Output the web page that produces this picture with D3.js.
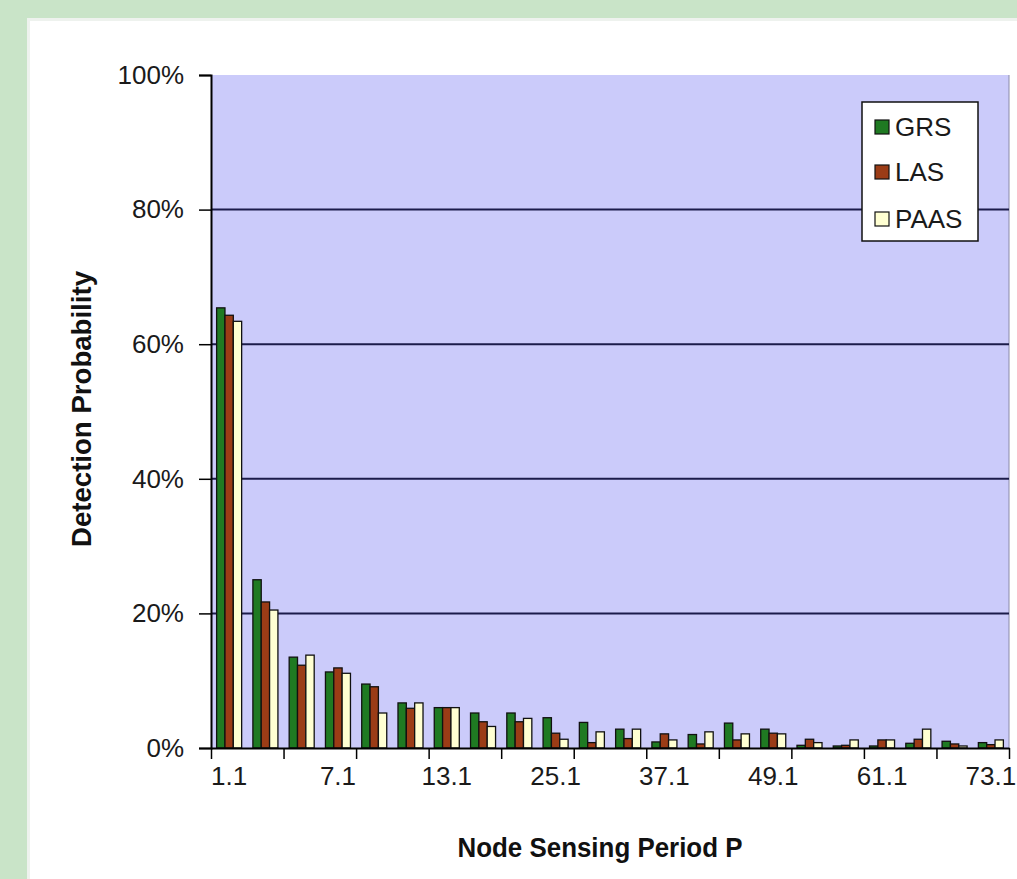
<!DOCTYPE html>
<html>
<head>
<meta charset="utf-8">
<script src="https://cdn.jsdelivr.net/npm/d3@7"></script>
<style>
  html, body { margin: 0; padding: 0; background: #c9e4c8; }
  svg { display: block; }
</style>
</head>
<body>
<svg id="chart" width="1017" height="879"></svg>
<script>
// Sensing periods (x categories)
const categories = ["1.1","3.1","5.1","7.1","9.1","11.1","13.1","17.1","21.1","25.1","29.1",
  "33.1","37.1","41.1","45.1","49.1","53.1","57.1","61.1","65.1","69.1","73.1"];

// Detection probability per scheme, in percent
const grs  = [65.4, 25.0, 13.5, 11.3, 9.5, 6.7, 6.0, 5.2, 5.2, 4.5, 3.8,
              2.8, 0.9, 2.0, 3.7, 2.8, 0.4, 0.3, 0.3, 0.7, 1.0, 0.8];
const las  = [64.3, 21.7, 12.3, 11.9, 9.1, 5.9, 6.0, 3.9, 3.9, 2.2, 0.8,
              1.4, 2.1, 0.6, 1.2, 2.2, 1.3, 0.4, 1.2, 1.3, 0.6, 0.5];
const paas = [63.4, 20.5, 13.8, 11.1, 5.2, 6.7, 6.0, 3.2, 4.4, 1.3, 2.4,
              2.8, 1.2, 2.4, 2.1, 2.1, 0.8, 1.2, 1.2, 2.8, 0.3, 1.2];

const seriesNames = ["GRS", "LAS", "PAAS"];
const seriesColors = ["#1f7a22", "#9b3c16", "#ffffd2"];

// Axis labels
const yTickValues = [0, 20, 40, 60, 80, 100];
const gridValues = [20, 40, 60, 80];
const xLabelCats = ["1.1","7.1","13.1","25.1","37.1","49.1","61.1","73.1"];

const svg = d3.select("#chart");
const W = 1017, H = 879;
const plot = { left: 211, right: 1009, top: 75, bottom: 748 };
const font = "'Liberation Sans', Arial, sans-serif";

// white chart panel
svg.append("rect").attr("x", 27).attr("y", 18).attr("width", W - 27).attr("height", H - 18)
  .attr("fill", "#eef2ee");
svg.append("rect").attr("x", 30).attr("y", 21).attr("width", W - 30).attr("height", H - 21)
  .attr("fill", "#ffffff");

// scales
const x0 = d3.scaleBand().domain(categories).range([plot.left, plot.right])
  .paddingInner(0.31).paddingOuter(0.155);
const x1 = d3.scaleBand().domain(seriesNames).range([0, x0.bandwidth()]);
const xBound = d3.scaleLinear().domain([0, categories.length]).range([plot.left, plot.right]);
const y = d3.scaleLinear().domain([0, 100]).range([plot.bottom, plot.top]);
const color = d3.scaleOrdinal().domain(seriesNames).range(seriesColors);

// plot area
svg.append("rect").attr("x", plot.left).attr("y", plot.top)
  .attr("width", plot.right - plot.left).attr("height", plot.bottom - plot.top)
  .attr("fill", "#cbcbfa");
svg.append("line").attr("x1", plot.right).attr("x2", plot.right)
  .attr("y1", plot.top).attr("y2", plot.bottom).attr("stroke", "#8a8aa8").attr("stroke-width", 1);

// gridlines
svg.append("g").selectAll("line").data(gridValues).join("line")
  .attr("x1", plot.left).attr("x2", plot.right)
  .attr("y1", d => y(d)).attr("y2", d => y(d))
  .attr("stroke", "#1c1c4a").attr("stroke-width", 2);

// bars
const rows = categories.map((c, i) => ({ cat: c, values: [grs[i], las[i], paas[i]] }));
svg.append("g").selectAll("g").data(rows).join("g")
  .attr("transform", d => `translate(${x0(d.cat)},0)`)
  .selectAll("rect").data(d => d.values.map((v, k) => ({ key: seriesNames[k], v })))
  .join("rect")
  .attr("x", d => x1(d.key))
  .attr("y", d => y(d.v))
  .attr("width", x1.bandwidth())
  .attr("height", d => y(0) - y(d.v))
  .attr("fill", d => color(d.key))
  .attr("stroke", "#111")
  .attr("stroke-width", 1.3);

// y axis
const yAxis = svg.append("g").attr("transform", `translate(${plot.left},0)`)
  .call(d3.axisLeft(y).tickValues(yTickValues).tickFormat(d => d + "%").tickSize(12).tickPadding(15));
yAxis.select(".domain").attr("stroke", "#000").attr("stroke-width", 2);
yAxis.selectAll(".tick line").attr("stroke", "#000").attr("stroke-width", 1.5);
yAxis.selectAll("text").attr("font-family", font).attr("font-size", 26).attr("fill", "#1a1a1a");

// x axis: tick marks every two categories
const xTicks = svg.append("g").attr("transform", `translate(0,${plot.bottom})`)
  .call(d3.axisBottom(xBound).tickValues(d3.range(0, categories.length + 1, 2))
    .tickFormat("").tickSize(11).tickSizeOuter(0));
xTicks.select(".domain").attr("stroke", "#000").attr("stroke-width", 2);
xTicks.selectAll(".tick line").attr("stroke", "#000").attr("stroke-width", 1.5);

// x axis: category labels
const xLabels = svg.append("g").attr("transform", `translate(0,${plot.bottom})`)
  .call(d3.axisBottom(x0).tickValues(xLabelCats).tickSize(0).tickPadding(19));
xLabels.select(".domain").remove();
xLabels.selectAll("text").attr("font-family", font).attr("font-size", 26).attr("fill", "#1a1a1a");

// axis titles
svg.append("text")
  .attr("x", 600).attr("y", 857)
  .attr("text-anchor", "middle")
  .attr("font-family", "'Liberation Sans Narrow', 'Arial Narrow', " + font)
  .attr("font-weight", "bold").attr("font-size", 28)
  .attr("textLength", 285).attr("lengthAdjust", "spacingAndGlyphs")
  .attr("fill", "#111")
  .text("Node Sensing Period P");

svg.append("text")
  .attr("transform", "translate(91,409) rotate(-90)")
  .attr("text-anchor", "middle")
  .attr("font-family", "'Liberation Sans Narrow', 'Arial Narrow', " + font)
  .attr("font-weight", "bold").attr("font-size", 27)
  .attr("textLength", 276).attr("lengthAdjust", "spacingAndGlyphs")
  .attr("fill", "#111")
  .text("Detection Probability");

// legend
const legend = svg.append("g");
legend.append("rect").attr("x", 862).attr("y", 102).attr("width", 116).attr("height", 139)
  .attr("fill", "#ffffff").attr("stroke", "#111").attr("stroke-width", 1.5);
const legendRows = [127, 172, 219];
const items = legend.selectAll("g.item").data(seriesNames).join("g")
  .attr("class", "item")
  .attr("transform", (d, i) => `translate(875,${legendRows[i]})`);
items.append("rect").attr("x", 0).attr("y", -7).attr("width", 14).attr("height", 14)
  .attr("fill", d => color(d)).attr("stroke", "#111").attr("stroke-width", 1.2);
items.append("text").attr("x", 20).attr("y", 9)
  .attr("font-family", font).attr("font-size", 26).attr("fill", "#1a1a1a")
  .text(d => d);
</script>
</body>
</html>
